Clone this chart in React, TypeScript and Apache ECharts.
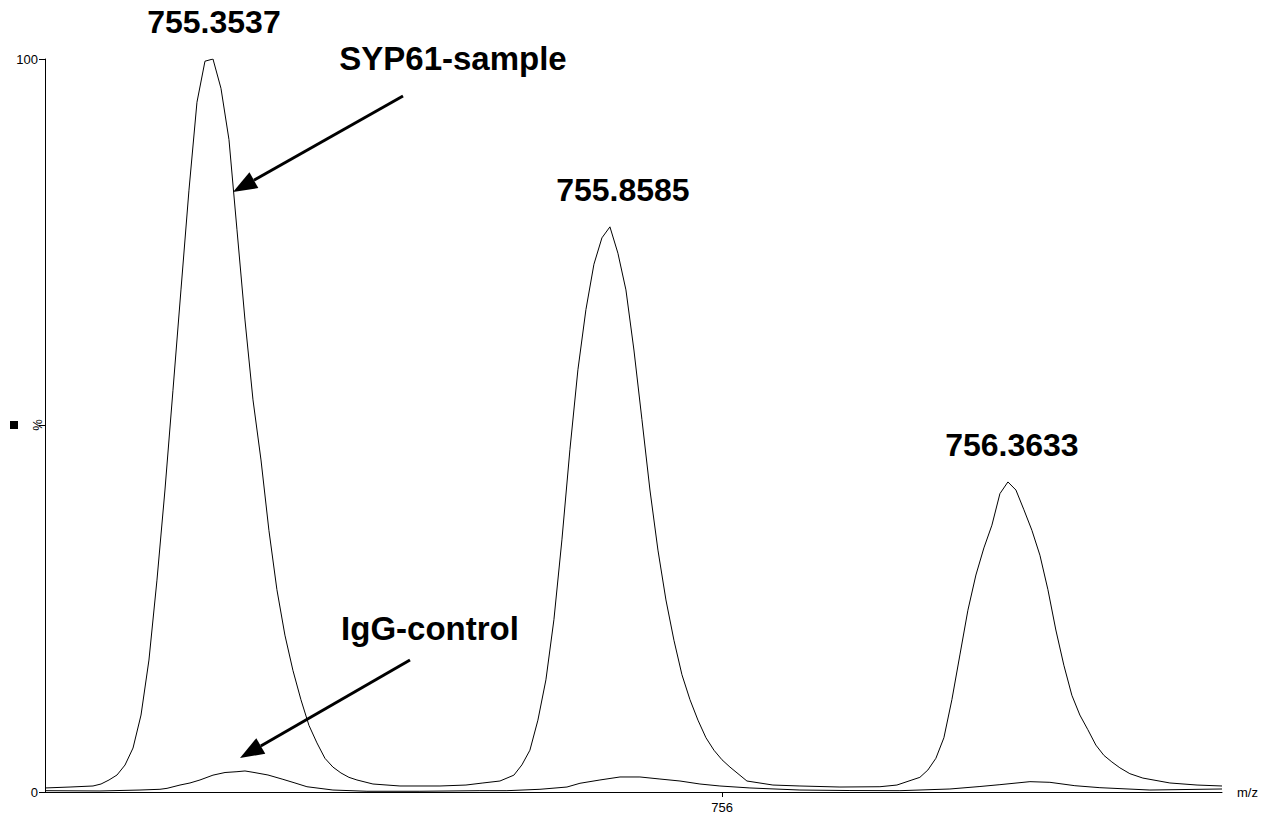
import React, { useEffect, useRef } from "react";
import * as echarts from "echarts";

// Profile spectrum, SYP61 immunoprecipitate (m/z, relative intensity %)
const sampleMz = [
  755.1455, 755.1771, 755.2061, 755.2162, 755.2263, 755.2364, 755.2465, 755.2566,
  755.2667, 755.2767, 755.2868, 755.2969, 755.307, 755.3171, 755.3272, 755.3373,
  755.3474, 755.3575, 755.3676, 755.3777, 755.3878, 755.3979, 755.408, 755.4181,
  755.4281, 755.4382, 755.4483, 755.4584, 755.4685, 755.4786, 755.4887, 755.4988,
  755.5089, 755.519, 755.5291, 755.5392, 755.5594, 755.5935, 755.644, 755.6768,
  755.6982, 755.7197, 755.7373, 755.7474, 755.7575, 755.7676, 755.7777, 755.7878,
  755.7979, 755.808, 755.8181, 755.8282, 755.8383, 755.8484, 755.8585, 755.8686,
  755.8787, 755.8888, 755.8989, 755.909, 755.9191, 755.9292, 755.9393, 755.9494,
  755.9595, 755.9696, 755.9797, 755.9898, 755.9999, 756.01, 756.0314, 756.0642,
  756.0983, 756.1488, 756.1993, 756.2207, 756.2397, 756.2497, 756.2598, 756.2699,
  756.28, 756.2901, 756.3002, 756.3103, 756.3204, 756.3305, 756.3406, 756.3507,
  756.3608, 756.3709, 756.381, 756.3911, 756.4012, 756.4113, 756.4213, 756.4314,
  756.4415, 756.4516, 756.4617, 756.4718, 756.4819, 756.492, 756.5021, 756.5147,
  756.5311, 756.5652, 756.5995, 756.631,
];
const sampleIntensity = [
  0.55, 0.68, 0.82, 1.09, 1.64, 2.32, 3.68, 6.0,
  10.5, 18.0, 28.9, 41.2, 54.8, 68.5, 82.1, 94.1,
  99.7, 100.0, 96.0, 89.0, 76.7, 64.4, 53.5, 45.3,
  35.7, 27.6, 21.4, 16.6, 12.6, 9.1, 6.7, 4.6,
  3.4, 2.6, 2.0, 1.64, 1.09, 0.82, 0.82, 0.95,
  1.23, 1.5, 2.3, 3.7, 5.7, 9.8, 15.3, 23.5,
  34.4, 46.7, 57.6, 65.8, 72.0, 75.6, 77.1, 73.5,
  68.5, 60.3, 50.8, 41.2, 33.0, 26.2, 20.7, 16.0,
  12.6, 9.8, 7.4, 5.7, 4.4, 3.4, 1.5, 0.95,
  0.82, 0.68, 0.72, 0.95, 1.64, 2.0, 3.0, 4.6,
  7.4, 12.6, 18.7, 24.8, 29.6, 33.3, 36.4, 40.7,
  42.3, 41.2, 38.5, 35.7, 32.3, 27.6, 22.1, 17.3,
  13.2, 10.5, 8.5, 6.4, 5.0, 4.1, 3.3, 2.5,
  1.9, 1.23, 0.95, 0.82,
];

// Profile spectrum, IgG control immunoprecipitate
const controlMz = [
  755.1455, 755.2149, 755.2654, 755.2906, 755.2995, 755.3159, 755.3285, 755.3411,
  755.3575, 755.3727, 755.3878, 755.3979, 755.408, 755.4269, 755.4458, 755.461,
  755.4761, 755.5089, 755.5518, 755.6187, 755.6944, 755.7285, 755.7702, 755.8043,
  755.8207, 755.8459, 755.8712, 755.8964, 755.9216, 755.9469, 755.9721, 755.9973,
  756.0352, 756.0983, 756.1614, 756.2245, 756.2876, 756.3255, 756.3507, 756.3886,
  756.4138, 756.4453, 756.4769, 756.54, 756.631,
];
const controlIntensity = [
  0.18, 0.14, 0.27, 0.37, 0.5, 0.95, 1.23, 1.64,
  2.3, 2.66, 2.77, 2.87, 2.69, 2.32, 1.73, 1.23,
  0.72, 0.27, 0.1, 0.1, 0.18, 0.18, 0.37, 0.68,
  1.19, 1.64, 2.05, 2.05, 1.77, 1.5, 1.09, 0.82,
  0.55, 0.27, 0.2, 0.18, 0.41, 0.75, 1.0, 1.41,
  1.32, 0.86, 0.59, 0.27, 0.41,
];

// Labelled isotope peaks
const peakMz = [755.3537, 755.8585, 756.3633];
const peakHeight = [100, 77.1, 42.3];
const peakLabelShift = [4, 13, 2];

const xTicks = [756];
const mzMin = 755.1455;
const mzMax = 756.631;

const FONT = "'Liberation Sans', Arial, Helvetica, sans-serif";

const zip = (xs: number[], ys: number[]) => xs.map((x, i) => [x, ys[i]]);

export default function App() {
  const ref = useRef<HTMLDivElement>(null);

  useEffect(() => {
    if (!ref.current) return;
    const chart = echarts.init(ref.current, null, { renderer: "svg" });

    const arrow = (x1: number, y1: number, x2: number, y2: number) => {
      const ang = Math.atan2(y2 - y1, x2 - x1);
      const len = 24;
      const half = 9;
      const bx = x2 - Math.cos(ang) * len;
      const by = y2 - Math.sin(ang) * len;
      const px = -Math.sin(ang) * half;
      const py = Math.cos(ang) * half;
      return [
        {
          type: "line",
          shape: { x1, y1, x2: bx, y2: by },
          style: { stroke: "#000", lineWidth: 3 },
        },
        {
          type: "polygon",
          shape: {
            points: [
              [x2, y2],
              [bx + px, by + py],
              [bx - px, by - py],
            ],
          },
          style: { fill: "#000" },
        },
      ];
    };

    chart.setOption({
      animation: false,
      backgroundColor: "#fff",
      textStyle: { fontFamily: FONT },
      grid: { left: 45, right: 41, top: 59, bottom: 23, containLabel: false },
      xAxis: {
        type: "value",
        min: mzMin,
        max: mzMax,
        name: "m/z",
        nameLocation: "end",
        nameGap: 15,
        nameTextStyle: { color: "#000", fontSize: 13, fontFamily: FONT },
        axisLine: { show: true, lineStyle: { color: "#000", width: 1 } },
        axisTick: { show: true, length: 5, customValues: xTicks, lineStyle: { color: "#000" } },
        axisLabel: {
          show: true,
          customValues: xTicks,
          color: "#000",
          fontSize: 13,
          margin: 9,
          fontFamily: FONT,
          formatter: (v: number) => String(Math.round(v)),
        },
        splitLine: { show: false },
      },
      yAxis: {
        type: "value",
        min: 0,
        max: 100,
        interval: 50,
        axisLine: { show: true, lineStyle: { color: "#000", width: 1 } },
        axisTick: { show: true, length: 6, lineStyle: { color: "#000" } },
        axisLabel: {
          color: "#000",
          fontSize: 13,
          margin: 7,
          fontFamily: FONT,
          formatter: (v: number) => (v === 50 ? "" : String(v)),
        },
        splitLine: { show: false },
      },
      series: [
        {
          name: "SYP61-sample",
          type: "line",
          data: zip(sampleMz, sampleIntensity),
          showSymbol: false,
          symbol: "none",
          lineStyle: { color: "#000", width: 1 },
          markPoint: {
            symbol: "circle",
            symbolSize: 0,
            itemStyle: { color: "transparent" },
            label: {
              show: true,
              color: "#000",
              fontSize: 32,
              fontWeight: "bold",
              fontFamily: FONT,
              position: "inside",
              formatter: (p: any) => p.data.coord[0].toFixed(4),
            },
            data: peakMz.map((mz, i) => ({
              coord: [mz, peakHeight[i]],
              label: { offset: [peakLabelShift[i], -37] },
            })),
          },
        },
        {
          name: "IgG-control",
          type: "line",
          data: zip(controlMz, controlIntensity),
          showSymbol: false,
          symbol: "none",
          lineStyle: { color: "#000", width: 1 },
        },
      ],
      graphic: [
        {
          type: "text",
          x: 453,
          y: 58,
          style: {
            text: "SYP61-sample",
            fill: "#000",
            font: `bold 33px ${FONT}`,
            textAlign: "center",
            textVerticalAlign: "middle",
          },
        },
        {
          type: "text",
          x: 430,
          y: 628,
          style: {
            text: "IgG-control",
            fill: "#000",
            font: `bold 33px ${FONT}`,
            textAlign: "center",
            textVerticalAlign: "middle",
          },
        },
        ...arrow(403, 96, 233, 192),
        ...arrow(410, 660, 240, 758),
        {
          type: "text",
          x: 37,
          y: 425,
          rotation: Math.PI / 2,
          style: {
            text: "%",
            fill: "#000",
            font: `13px ${FONT}`,
            textAlign: "center",
            textVerticalAlign: "middle",
          },
        },
        {
          type: "rect",
          shape: { x: 10, y: 421, width: 8, height: 8 },
          style: { fill: "#000" },
        },
      ],
    });

    return () => chart.dispose();
  }, []);

  return (
    <div
      ref={ref}
      style={{ position: "fixed", left: 0, top: 0, width: 1263, height: 815 }}
    />
  );
}
